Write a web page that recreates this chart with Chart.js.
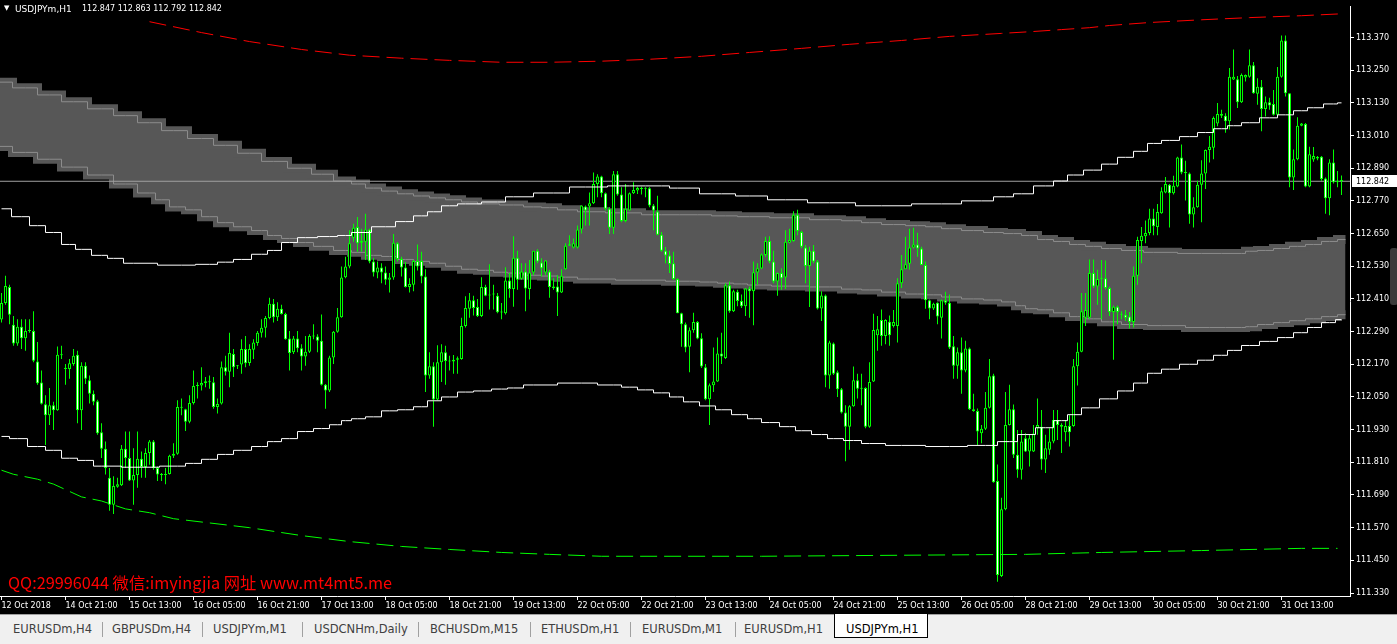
<!DOCTYPE html>
<html><head><meta charset="utf-8">
<script src="https://cdn.jsdelivr.net/npm/chart.js@4.4.1/dist/chart.umd.min.js"></script>
<style>
html,body{margin:0;padding:0;background:#000;width:1397px;height:644px;overflow:hidden;position:relative;}
#cv{position:absolute;left:0;top:0;}
.ov{position:absolute;white-space:pre;line-height:1;}
#tri{left:4px;top:4px;color:#fff;font:7px 'DejaVu Sans';}
#sym{left:15px;top:4px;color:#fff;font:9px 'DejaVu Sans';}
#ohlc{left:82px;top:4px;color:#fff;font:8px 'DejaVu Sans';}
#wm{left:8px;top:570px;color:#ff0000;font:16.3px 'Noto Sans CJK SC';}
#tabs{position:absolute;left:0;top:614px;width:1397px;height:30px;background:#f0f0f0;border-top:1px solid #a0a0a0;box-sizing:border-box;}
.tab{position:absolute;top:9px;font:11.5px 'DejaVu Sans';color:#404040;white-space:pre;line-height:1;}
.sep{position:absolute;top:7px;width:1px;height:15px;background:#a0a0a0;}
#act{position:absolute;left:834px;top:-1px;width:94px;height:24px;background:#fff;border:1px solid #000;border-top:none;box-sizing:border-box;}
#widget{position:absolute;left:1390px;top:248px;width:8px;height:57px;background:#3a3a3a;border-radius:3px;}
</style></head>
<body>
<canvas id="cv" width="1397" height="614"></canvas>
<div id="tri" class="ov">▼</div>
<div id="sym" class="ov">USDJPYm,H1</div>
<div id="ohlc" class="ov">112.847 112.863 112.792 112.842</div>
<div id="wm" class="ov">QQ:29996044 微信:imyingjia 网址 www.mt4mt5.me</div>
<div id="widget"></div>
<div id="tabs"><div id="act"></div></div>
<script>
// ---- candle data (USDJPYm, H1) ----
const O = [112.334,112.395,112.454,112.315,112.246,112.308,112.266,112.292,112.292,112.180,
112.103,112.023,111.983,112.020,112.001,112.205,112.157,112.153,112.171,112.205,
112.001,112.165,112.111,112.062,112.034,111.920,111.860,111.753,111.654,111.720,
111.726,111.860,111.826,111.743,111.763,111.823,111.793,111.844,111.886,111.789,
111.765,111.763,111.767,111.834,111.841,112.013,112.005,111.959,112.028,112.090,
112.092,112.101,112.108,112.104,112.013,112.026,112.159,112.143,112.208,112.163,
112.169,112.226,112.175,112.223,112.248,112.286,112.304,112.340,112.392,112.343,
112.374,112.355,112.265,112.214,112.265,112.229,112.199,112.216,112.274,112.272,
112.256,112.095,112.074,112.195,112.289,112.343,112.490,112.529,112.635,112.674,
112.616,112.620,112.665,112.547,112.507,112.525,112.507,112.480,112.489,112.614,
112.557,112.525,112.454,112.462,112.549,112.549,112.492,112.129,112.163,112.041,
112.177,112.214,112.182,112.180,112.187,112.189,112.311,112.374,112.405,112.380,
112.347,112.454,112.423,112.426,112.422,112.361,112.357,112.478,112.446,112.561,
112.484,112.511,112.446,112.507,112.587,112.544,112.507,112.511,112.450,112.456,
112.434,112.519,112.605,112.599,112.599,112.665,112.749,112.749,112.761,112.832,
112.860,112.798,112.741,112.671,112.868,112.793,112.696,112.735,112.798,112.808,
112.814,112.817,112.816,112.753,112.731,112.646,112.587,112.569,112.541,112.483,
112.357,112.317,112.234,112.295,112.325,112.266,112.159,112.042,112.093,112.107,
112.210,112.193,112.460,112.365,112.436,112.402,112.383,112.448,112.438,112.507,
112.522,112.571,112.623,112.547,112.474,112.505,112.489,112.616,112.623,112.719,
112.656,112.599,112.531,112.587,112.547,112.375,112.423,112.129,112.246,112.141,
112.078,111.993,111.941,112.016,112.111,112.080,112.083,111.941,112.107,112.277,
112.333,112.274,112.326,112.311,112.311,112.468,112.519,112.539,112.599,112.610,
112.595,112.535,112.405,112.375,112.396,112.341,112.405,112.396,112.236,112.165,
112.214,112.147,112.228,112.005,111.998,111.917,111.933,112.010,112.129,111.741,
111.393,111.638,111.947,112.005,111.838,111.783,111.898,111.850,111.850,111.935,
111.941,111.820,111.856,111.886,111.965,111.947,111.920,111.943,111.943,112.163,
112.216,112.341,112.341,112.505,112.456,112.484,112.486,112.450,112.362,112.381,
112.355,112.352,112.345,112.325,112.495,112.623,112.640,112.652,112.705,112.674,
112.725,112.801,112.829,112.798,112.823,112.929,112.874,112.871,112.720,112.747,
112.829,112.871,112.957,112.965,113.054,113.089,113.083,113.062,113.216,113.217,
113.132,113.223,113.226,113.268,113.163,113.189,113.107,113.132,113.126,113.086,
113.226,113.359,113.165,112.856,112.923,113.046,113.052,112.823,112.922,112.931,
112.932,112.852,112.780,112.911,112.838,112.847];
const H = [112.432,112.495,112.462,112.347,112.335,112.335,112.335,112.335,112.365,112.252,
112.147,112.056,112.083,112.032,112.235,112.238,112.171,112.189,112.226,112.220,
112.177,112.177,112.129,112.074,112.040,111.953,111.886,111.789,111.759,111.753,
111.874,111.923,111.923,111.862,111.923,111.850,111.862,111.892,111.892,111.795,
111.771,111.789,111.838,111.880,112.038,112.044,112.007,112.056,112.147,112.104,
112.159,112.123,112.129,112.123,112.044,112.180,112.201,112.286,112.226,112.167,
112.262,112.274,112.244,112.262,112.292,112.335,112.347,112.414,112.410,112.398,
112.389,112.359,112.292,112.274,112.292,112.244,112.274,112.280,112.317,112.280,
112.353,112.098,112.201,112.292,112.377,112.529,112.565,112.662,112.686,112.711,
112.668,112.723,112.668,112.559,112.547,112.541,112.529,112.505,112.648,112.618,
112.565,112.546,112.486,112.553,112.610,112.583,112.519,112.214,112.177,112.240,
112.244,112.238,112.201,112.204,112.199,112.341,112.420,112.432,112.422,112.410,
112.490,112.462,112.537,112.462,112.432,112.395,112.526,112.505,112.640,112.587,
112.541,112.541,112.553,112.587,112.592,112.559,112.553,112.517,112.486,112.498,
112.519,112.614,112.644,112.632,112.680,112.753,112.753,112.801,112.874,112.868,
112.862,112.801,112.747,112.880,112.880,112.820,112.832,112.801,112.838,112.822,
112.822,112.820,112.820,112.759,112.789,112.656,112.601,112.587,112.583,112.486,
112.359,112.323,112.305,112.359,112.329,112.284,112.171,112.099,112.232,112.268,
112.286,112.468,112.474,112.444,112.444,112.426,112.450,112.456,112.547,112.541,
112.577,112.638,112.640,112.587,112.507,112.523,112.662,112.668,112.732,112.737,
112.660,112.608,112.602,112.608,112.553,112.438,112.426,112.256,112.250,112.147,
112.083,112.020,112.020,112.162,112.135,112.135,112.086,112.177,112.356,112.347,
112.371,112.335,112.349,112.369,112.486,112.571,112.638,112.668,112.671,112.653,
112.602,112.547,112.408,112.396,112.398,112.408,112.436,112.426,112.274,112.232,
112.268,112.256,112.232,112.062,112.008,111.947,112.068,112.189,112.135,111.802,
111.680,112.068,112.095,112.022,111.929,111.929,111.917,111.911,111.947,112.044,
112.002,111.911,111.935,112.002,112.002,111.953,111.965,111.983,112.189,112.250,
112.432,112.432,112.555,112.555,112.517,112.553,112.551,112.456,112.386,112.386,
112.365,112.369,112.362,112.529,112.638,112.674,112.698,112.741,112.741,112.759,
112.820,112.858,112.832,112.862,112.932,112.977,112.917,112.874,112.783,112.844,
112.919,112.959,113.008,113.080,113.129,113.105,113.092,113.258,113.326,113.229,
113.238,113.234,113.326,113.280,113.220,113.214,113.153,113.149,113.177,113.262,
113.377,113.377,113.165,112.959,113.077,113.056,113.056,112.969,112.968,112.935,
112.935,112.856,112.923,112.959,112.880,112.863];
const L = [112.323,112.389,112.317,112.238,112.238,112.226,112.220,112.286,112.177,112.095,
112.022,111.874,111.947,111.929,111.999,112.189,112.095,112.117,112.165,111.953,
111.929,112.098,112.026,112.020,111.911,111.826,111.765,111.632,111.620,111.717,
111.723,111.789,111.741,111.654,111.717,111.753,111.753,111.801,111.783,111.741,
111.741,111.729,111.765,111.826,111.838,111.983,111.925,111.953,112.022,112.044,
112.074,112.086,112.080,112.007,111.989,112.022,112.129,112.086,112.123,112.153,
112.135,112.159,112.165,112.189,112.238,112.268,112.268,112.335,112.323,112.329,
112.353,112.260,112.147,112.208,112.214,112.147,112.165,112.211,112.262,112.214,
112.092,112.007,112.068,112.171,112.286,112.341,112.486,112.523,112.620,112.583,
112.583,112.553,112.541,112.492,112.486,112.468,112.462,112.434,112.480,112.547,
112.492,112.452,112.434,112.438,112.514,112.468,112.068,112.117,111.941,112.038,
112.105,112.095,112.147,112.135,112.135,112.187,112.305,112.341,112.349,112.344,
112.344,112.420,112.371,112.371,112.357,112.335,112.353,112.414,112.381,112.444,
112.480,112.365,112.408,112.498,112.541,112.492,112.498,112.414,112.444,112.347,
112.432,112.517,112.604,112.595,112.595,112.650,112.680,112.680,112.759,112.783,
112.783,112.735,112.648,112.648,112.789,112.692,112.692,112.735,112.795,112.795,
112.793,112.783,112.747,112.662,112.644,112.583,112.541,112.505,112.480,112.357,
112.234,112.214,112.141,112.286,112.262,112.156,112.038,111.947,112.068,112.105,
112.171,112.189,112.359,112.362,112.383,112.377,112.347,112.341,112.313,112.462,
112.519,112.565,112.541,112.468,112.422,112.444,112.446,112.614,112.620,112.644,
112.596,112.468,112.380,112.541,112.371,112.329,112.086,112.080,112.131,112.050,
111.989,111.814,111.856,112.014,112.044,112.020,111.935,111.937,112.105,112.220,
112.238,112.244,112.238,112.305,112.250,112.450,112.519,112.517,112.595,112.565,
112.535,112.374,112.335,112.369,112.317,112.265,112.389,112.226,112.117,112.117,
112.062,112.141,112.002,111.996,111.874,111.880,111.929,112.008,111.735,111.371,
111.389,111.634,111.945,111.826,111.753,111.747,111.848,111.795,111.848,111.911,
111.783,111.771,111.838,111.880,111.892,111.844,111.886,111.868,111.941,112.092,
112.214,112.311,112.335,112.450,112.389,112.335,112.444,112.347,112.187,112.317,
112.335,112.329,112.301,112.305,112.462,112.541,112.614,112.644,112.644,112.644,
112.723,112.798,112.672,112.793,112.820,112.868,112.771,112.686,112.672,112.745,
112.692,112.814,112.911,112.923,113.044,113.074,113.020,113.032,113.214,113.111,
113.129,113.208,113.222,113.163,113.123,113.026,113.080,113.105,113.084,113.080,
113.222,113.153,112.820,112.810,112.919,113.044,112.820,112.820,112.914,112.919,
112.844,112.723,112.717,112.834,112.820,112.792];
const C = [112.395,112.457,112.352,112.246,112.308,112.266,112.292,112.295,112.183,112.100,
112.025,111.983,112.020,112.001,112.205,112.203,112.153,112.174,112.201,112.001,
112.165,112.117,112.062,112.032,111.917,111.860,111.789,111.654,111.723,111.729,
111.860,111.826,111.743,111.763,111.823,111.793,111.844,111.886,111.789,111.765,
111.763,111.767,111.834,111.841,112.013,112.010,111.959,112.028,112.090,112.092,
112.101,112.108,112.104,112.013,112.024,112.159,112.143,112.211,112.159,112.165,
112.226,112.174,112.226,112.250,112.286,112.304,112.340,112.392,112.343,112.374,
112.355,112.262,112.211,112.265,112.229,112.199,112.216,112.274,112.272,112.256,
112.095,112.074,112.195,112.289,112.343,112.489,112.529,112.614,112.671,112.614,
112.623,112.665,112.547,112.507,112.525,112.507,112.480,112.489,112.616,112.557,
112.525,112.454,112.465,112.549,112.529,112.492,112.129,112.163,112.041,112.177,
112.214,112.182,112.180,112.187,112.192,112.311,112.377,112.405,112.377,112.347,
112.454,112.422,112.426,112.429,112.361,112.360,112.478,112.446,112.561,112.480,
112.511,112.448,112.507,112.587,112.547,112.523,112.551,112.454,112.456,112.434,
112.495,112.605,112.611,112.614,112.665,112.753,112.735,112.761,112.832,112.860,
112.798,112.741,112.671,112.868,112.793,112.696,112.741,112.798,112.810,112.817,
112.817,112.815,112.753,112.735,112.646,112.587,112.569,112.538,112.483,112.357,
112.317,112.232,112.295,112.325,112.265,112.162,112.042,112.093,112.107,112.210,
112.199,112.460,112.365,112.438,112.402,112.383,112.448,112.438,112.508,112.523,
112.573,112.623,112.547,112.474,112.505,112.486,112.620,112.626,112.719,112.659,
112.602,112.531,112.587,112.547,112.375,112.423,112.129,112.250,112.135,112.078,
111.993,111.941,112.016,112.111,112.080,112.083,111.941,112.105,112.296,112.299,
112.274,112.333,112.277,112.325,112.468,112.519,112.537,112.599,112.610,112.595,
112.535,112.405,112.375,112.392,112.345,112.405,112.396,112.232,112.165,112.214,
112.147,112.228,112.005,111.998,111.923,111.933,112.010,112.126,111.737,111.396,
111.638,111.947,112.005,111.838,111.783,111.886,111.850,111.898,111.916,111.947,
111.820,111.862,111.886,111.965,111.947,111.941,111.943,111.920,112.163,112.216,
112.365,112.369,112.505,112.456,112.483,112.486,112.450,112.362,112.381,112.362,
112.352,112.341,112.325,112.495,112.626,112.642,112.652,112.705,112.677,112.729,
112.805,112.832,112.798,112.826,112.929,112.874,112.872,112.720,112.747,112.829,
112.871,112.957,112.969,113.074,113.089,113.083,113.062,113.226,113.226,113.132,
113.232,113.232,113.268,113.165,113.189,113.107,113.132,113.120,113.086,113.226,
113.359,113.165,112.856,112.923,113.046,113.054,112.823,112.941,112.935,112.926,
112.850,112.780,112.911,112.838,112.844,112.842];

// ---- indicator lines (bar index, price) ----
const upperIdx = [0,5,9,13,17,20,25,28,33,45,52,56,60,65,68,72,76,82,86,89,96,101,105,108,112,116,124,128,138,146,157,165,169,180,187,196,207,220,235,245,251,255,261,265,268,273,277,281,285,288,292,297,301,305,308,312,317,321,325,328,333,335];
const upperVal = [112.741,112.712,112.679,112.654,112.610,112.592,112.570,112.559,112.541,112.534,112.537,112.545,112.555,112.574,112.588,112.617,112.635,112.639,112.643,112.654,112.675,112.694,112.715,112.730,112.752,112.759,112.766,112.785,112.799,112.821,112.825,112.825,112.817,112.796,112.788,112.774,112.763,112.752,112.759,112.770,112.785,112.796,112.825,112.843,112.865,112.883,112.905,112.930,112.952,112.981,112.992,113.006,113.021,113.035,113.046,113.057,113.075,113.086,113.101,113.112,113.126,113.130];
const lowerIdx = [0,4,9,13,17,21,25,35,44,48,52,56,60,65,68,72,76,80,84,86,89,93,97,101,105,108,112,116,120,125,128,133,145,153,157,161,165,169,172,177,180,185,188,192,197,200,205,208,213,217,225,237,246,252,256,261,265,268,272,277,281,285,288,292,297,301,305,308,312,317,321,325,328,332,335];
const lowerVal = [111.905,111.897,111.868,111.854,111.825,111.817,111.796,111.792,111.796,111.806,111.821,111.839,111.854,111.868,111.886,111.897,111.923,111.934,111.948,111.963,111.970,111.977,111.999,112.003,112.014,112.036,112.050,112.068,112.072,112.079,112.083,112.094,112.101,112.094,112.086,112.076,112.065,112.050,112.032,112.017,112.003,111.985,111.970,111.956,111.941,111.926,111.912,111.897,111.890,111.879,111.872,111.868,111.872,111.886,111.912,111.937,111.963,111.985,112.010,112.043,112.072,112.101,112.137,112.152,112.170,112.185,112.203,112.221,112.239,112.254,112.268,112.286,112.305,112.323,112.334];
const bandTopIdx = [-0.5,6,12,18,25,31,37,43,50,56,62,68,75,80,86,89,93,97,101,105,109,113,117,121,128,133,137,141,147,155,165,174,181,187,197,207,213,217,223,229,233,237,243,248,253,257,261,265,269,273,277,283,288,300,310,312,316,320,324,328,332,336];
const bandTopVal = [113.206,113.185,113.159,113.134,113.108,113.083,113.057,113.028,112.999,112.974,112.945,112.915,112.890,112.868,112.843,112.832,112.817,112.806,112.796,112.788,112.781,112.774,112.766,112.759,112.755,112.748,112.745,112.737,112.730,112.726,112.719,112.719,112.715,112.712,112.708,112.701,112.697,112.690,112.683,112.679,112.675,112.668,112.661,112.654,112.650,112.643,112.628,112.621,112.610,112.603,112.595,112.588,112.581,112.577,112.577,112.585,112.588,112.595,112.603,112.610,112.621,112.628];
const bandBotIdx = [-0.5,6,12,18,25,31,37,40,44,48,52,56,60,65,68,72,76,80,86,89,93,97,101,105,109,113,117,121,125,128,133,137,141,147,160,172,177,181,185,188,197,207,213,217,223,229,233,237,243,248,252,255,257,261,265,269,273,277,283,290,302,310,312,316,320,324,328,332,336];
const bandBotVal = [112.970,112.948,112.923,112.894,112.865,112.832,112.799,112.774,112.748,112.737,112.712,112.690,112.675,112.661,112.643,112.632,112.617,112.603,112.588,112.581,112.570,112.566,112.555,112.548,112.541,112.530,112.519,112.515,112.508,112.505,112.497,112.494,112.490,112.483,112.479,112.475,112.472,112.468,112.465,112.461,112.457,112.454,112.446,112.443,112.435,112.428,112.425,112.417,112.410,112.406,112.399,112.385,112.374,112.370,112.359,112.345,112.337,112.326,112.316,112.312,112.305,112.305,112.308,112.316,112.323,112.330,112.337,112.345,112.352];
const greenIdx = [0,3,9,13,20,25,31,37,43,62,75,87,100,112,125,137,150,190,218,256,275,300,325,334];
const greenVal = [111.781,111.766,111.748,111.730,111.683,111.668,111.639,111.625,111.603,111.570,111.541,111.519,111.501,111.490,111.479,111.472,111.465,111.465,111.468,111.472,111.479,111.486,111.494,111.494];
const redIdx = [37,50,62,75,87,100,112,125,137,150,162,175,187,200,212,225,237,250,258,265,272,277,287,300,312,325,335];
const redVal = [113.428,113.388,113.355,113.326,113.305,113.294,113.286,113.279,113.279,113.283,113.290,113.301,113.315,113.330,113.345,113.359,113.374,113.385,113.392,113.399,113.406,113.414,113.425,113.435,113.443,113.450,113.457];

// ---- axis ticks ----
const yTicks = [113.370,113.250,113.130,113.010,112.890,112.770,112.650,112.530,112.410,112.290,112.170,112.050,111.930,111.810,111.690,111.570,111.450,111.330];
const xTickIdx = [0,16,32,48,64,80,96,112,128,144,160,176,192,208,224,240,256,272,288,304,320];
const xTickLabels = ["12 Oct 2018","14 Oct 21:00","15 Oct 13:00","16 Oct 05:00","16 Oct 21:00","17 Oct 13:00","18 Oct 05:00","18 Oct 21:00","19 Oct 13:00","22 Oct 05:00","22 Oct 21:00","23 Oct 13:00","24 Oct 05:00","24 Oct 21:00","25 Oct 13:00","26 Oct 05:00","28 Oct 21:00","29 Oct 13:00","30 Oct 05:00","30 Oct 21:00","31 Oct 13:00"];
const tabNames = ["EURUSDm,H4","GBPUSDm,H4","USDJPYm,M1","USDCNHm,Daily","BCHUSDm,M15","ETHUSDm,H1","EURUSDm,M1","EURUSDm,H1","USDJPYm,H1"];
const tabX = [13,112,213,314,430,541,642,744,846];
const sepX = [102,202,302,418,530,630,735];

const lastPrice = C[C.length-1];
const Y_MIN = 111.3191, Y_MAX = 113.4827;

const tabs = document.getElementById('tabs');
tabNames.forEach((t,k)=>{const d=document.createElement('div');d.className='tab';d.style.left=tabX[k]+'px';d.textContent=t;if(k===tabNames.length-1)d.style.color='#000';tabs.appendChild(d);});
sepX.forEach(x=>{const d=document.createElement('div');d.className='sep';d.style.left=x+'px';tabs.appendChild(d);});

const bars = O.map((_,i)=>i);
const pts = (xs,ys)=>xs.map((x,k)=>({x:x,y:ys[k]}));
const lineBase = {type:'line',pointRadius:0,pointHoverRadius:0,fill:false,clip:0,tension:0};

const priceLabel = {id:'priceLabel',afterDraw(chart){
  const {ctx,scales:{y},chartArea} = chart;
  const py = Math.round(y.getPixelForValue(lastPrice));
  ctx.save();
  ctx.fillStyle='#fff';
  ctx.fillRect(chartArea.right+2, py-6, 46, 12);
  ctx.fillStyle='#000';
  ctx.font='8px "DejaVu Sans"';
  ctx.textBaseline='middle';
  ctx.textAlign='left';
  ctx.fillText(lastPrice.toFixed(3), chartArea.right+6, py+0.5);
  ctx.restore();
}};

Chart.defaults.font.family = 'DejaVu Sans';
new Chart(document.getElementById('cv'), {
  type:'bar',
  data:{datasets:[
    Object.assign({},lineBase,{data:pts(bandTopIdx,bandTopVal),borderColor:'#575757',backgroundColor:'#575757',borderWidth:9,fill:'+1',stepped:'middle',order:9}),
    Object.assign({},lineBase,{data:pts(bandBotIdx,bandBotVal),borderColor:'#575757',borderWidth:9,stepped:'middle',order:9}),
    Object.assign({},lineBase,{data:pts(bandTopIdx,bandTopVal),borderColor:'#8c8c8c',borderWidth:1,stepped:'middle',order:8}),
    Object.assign({},lineBase,{data:pts(bandBotIdx,bandBotVal),borderColor:'#8c8c8c',borderWidth:1,stepped:'middle',order:8}),
    Object.assign({},lineBase,{data:[{x:-1,y:lastPrice},{x:338,y:lastPrice}],borderColor:'#a0a0a0',borderWidth:1,order:7}),
    {type:'bar',data:bars.map(i=>({x:i,y:[L[i],H[i]]})),backgroundColor:'#00ff00',borderWidth:0,barThickness:1,grouped:false,minBarLength:1,inflateAmount:0,order:6},
    {type:'bar',data:bars.map(i=>({x:i,y:[O[i],C[i]]})),backgroundColor:bars.map(i=>C[i]<O[i]?'#ffffff':'#000000'),borderColor:'#00ff00',borderWidth:1,borderSkipped:false,barThickness:3,grouped:false,minBarLength:1,inflateAmount:0,order:5},
    Object.assign({},lineBase,{data:pts(upperIdx,upperVal),borderColor:'#ffffff',borderWidth:1,stepped:'middle',order:1}),
    Object.assign({},lineBase,{data:pts(lowerIdx,lowerVal),borderColor:'#ffffff',borderWidth:1,stepped:'middle',order:1}),
    Object.assign({},lineBase,{data:pts(redIdx,redVal),borderColor:'#ff0000',borderWidth:1,borderDash:[17,7],order:1}),
    Object.assign({},lineBase,{data:pts(greenIdx,greenVal),borderColor:'#00ff00',borderWidth:1,borderDash:[17,7],order:1})
  ]},
  options:{
    responsive:false,maintainAspectRatio:false,animation:false,devicePixelRatio:1,
    layout:{padding:{top:1,left:0,right:0,bottom:0}},
    plugins:{legend:{display:false},tooltip:{enabled:false}},
    events:[],
    scales:{
      x:{type:'linear',min:-0.375,max:337.125,offset:false,
        afterBuildTicks:s=>{s.ticks=xTickIdx.map(v=>({value:v}));},
        afterFit:s=>{s.height=18;},
        ticks:{autoSkip:false,maxRotation:0,minRotation:0,align:'start',color:'#ffffff',font:{size:8},padding:1,
          callback:(v,i)=>xTickLabels[i]},
        grid:{drawOnChartArea:false,drawTicks:true,tickLength:4,color:'#ffffff',offset:false},
        border:{display:true,color:'#ffffff',width:1}},
      y:{type:'linear',position:'right',min:Y_MIN,max:Y_MAX,
        afterBuildTicks:s=>{s.ticks=yTicks.map(v=>({value:v}));},
        afterFit:s=>{s.width=47;},
        ticks:{color:'#ffffff',font:{size:8},padding:2,callback:v=>Number(v).toFixed(3)},
        grid:{drawOnChartArea:false,drawTicks:true,tickLength:4,color:'#ffffff'},
        border:{display:true,color:'#ffffff',width:1}}
    }
  },
  plugins:[priceLabel]
});
</script>
</body></html>
